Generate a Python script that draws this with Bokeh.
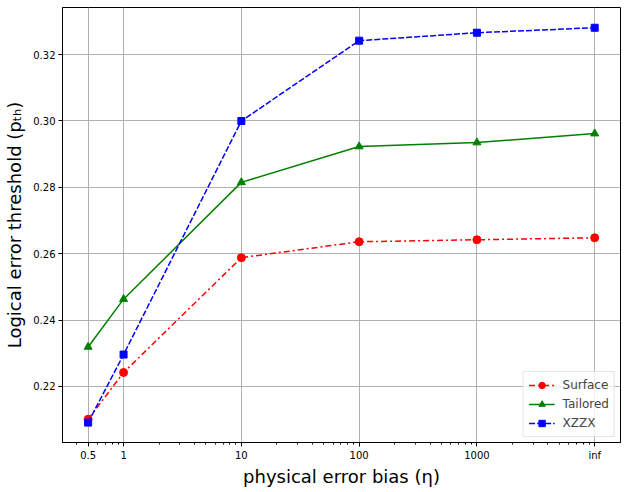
from bokeh.plotting import figure
from bokeh.models import FixedTicker, Legend, LegendItem
from bokeh.embed import file_html
from bokeh.resources import INLINE

# data
bias = [0.5, 1, 10, 100, 1000, 10000]
tick_labels = ["0.5", "1", "10", "100", "1000", "inf"]
surface = [0.2101, 0.2242, 0.2588, 0.2636, 0.2642, 0.2648]
tailored = [0.2319, 0.2463, 0.2815, 0.2923, 0.2935, 0.2962]
xzzx = [0.2091, 0.2296, 0.3000, 0.3242, 0.3266, 0.3281]
y_ticks = [0.22, 0.24, 0.26, 0.28, 0.30, 0.32]

FONT = "DejaVu Sans"

p = figure(width=627, height=492, x_axis_type="log",
           x_range=(0.303, 16560), y_range=(0.2031, 0.3342),
           output_backend="svg", toolbar_location=None,
           min_border_top=7, min_border_left=62, min_border_right=7,
           min_border_bottom=50)

minor = []
for d in [0.1, 1, 10, 100, 1000, 10000]:
    for k in range(2, 10):
        minor.append(d * k)
p.xaxis.ticker = FixedTicker(ticks=bias, minor_ticks=minor)
p.xaxis.major_label_overrides = {t: l for t, l in zip(bias, tick_labels)}
p.yaxis.ticker = FixedTicker(ticks=y_ticks)
p.yaxis.major_label_overrides = {t: f"{t:.2f}" for t in y_ticks}

for ax in (p.xaxis, p.yaxis):
    ax.axis_line_color = "black"
    ax.major_tick_line_color = "black"
    ax.minor_tick_line_color = "black"
    ax.major_tick_out = 4
    ax.major_tick_in = 0
    ax.minor_tick_out = 2
    ax.minor_tick_in = 0
    ax.major_label_text_font = FONT
    ax.major_label_text_font_size = "10px"
    ax.major_label_text_color = "black"
    ax.axis_label_text_font = FONT
    ax.axis_label_text_font_size = "18px"
    ax.axis_label_text_font_style = "normal"
    ax.axis_label_text_color = "black"
p.yaxis.minor_tick_line_color = None
p.xaxis.axis_label = "physical error bias (\u03b7)"
p.yaxis.axis_label = "Logical error threshold (p\u209c\u2095)"
p.xaxis.axis_label_standoff = 2
p.yaxis.axis_label_standoff = 5
p.xaxis.major_label_standoff = 3
p.yaxis.major_label_standoff = 3

p.outline_line_color = "black"
p.outline_line_alpha = 1
p.xgrid.grid_line_color = "#b0b0b0"
p.ygrid.grid_line_color = "#b0b0b0"
p.xgrid.grid_line_width = 1
p.ygrid.grid_line_width = 1

r1 = p.line(bias, surface, color="red", line_width=1.5, line_dash="6 3 2 3")
m1 = p.scatter(bias, surface, marker="circle", size=8, color="red")
r2 = p.line(bias, tailored, color="green", line_width=1.5)
m2 = p.scatter(bias, tailored, marker="triangle", size=8, color="green")
r3 = p.line(bias, xzzx, color="blue", line_width=1.5, line_dash="6 2")
m3 = p.scatter(bias, xzzx, marker="square", size=7, color="blue")

legend = Legend(items=[
    LegendItem(label="Surface", renderers=[r1, m1]),
    LegendItem(label="Tailored", renderers=[r2, m2]),
    LegendItem(label="XZZX", renderers=[r3, m3]),
], location="bottom_right")
legend.label_text_font = FONT
legend.label_text_font_size = "12px"
legend.border_line_color = "#cccccc"
legend.border_line_width = 1
legend.background_fill_alpha = 0.8
legend.glyph_width = 26
legend.glyph_height = 16
legend.label_height = 16
legend.spacing = 3
legend.padding = 5
legend.margin = 5
legend.label_standoff = 8
p.add_layout(legend)

open("out.html", "w").write(file_html(p, INLINE))
